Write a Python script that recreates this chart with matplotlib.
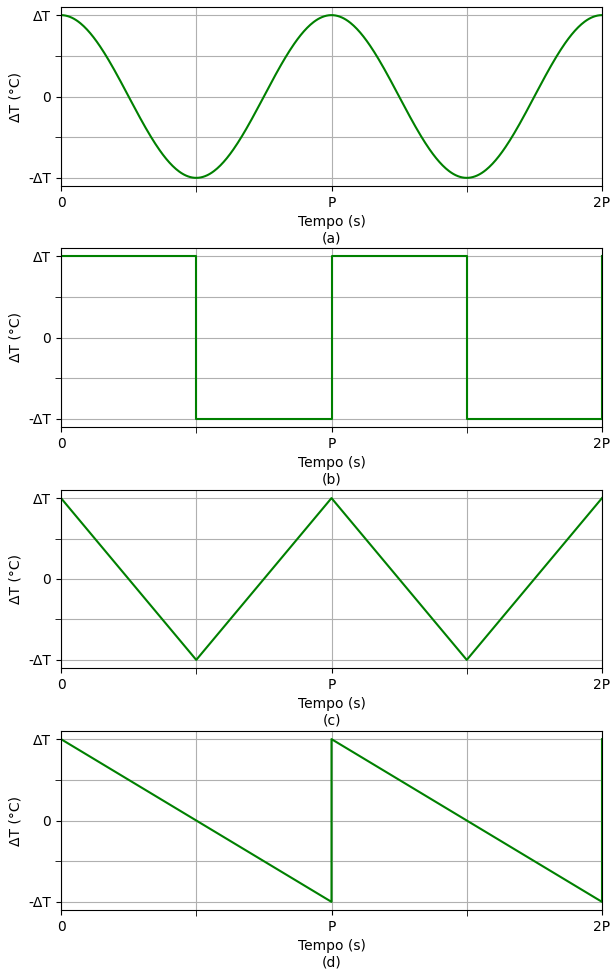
import numpy as np
import matplotlib
matplotlib.use("Agg")
import matplotlib.pyplot as plt

# periods (in units of P) and amplitude (in units of dT)
x_major = [0, 1, 2]
x_major_labels = ["0", "P", "2P"]
x_minor = [0.5, 1.5]
y_major = [1, 0, -1]
y_major_labels = ["ΔT", "0", "-ΔT"]
y_minor = [0.5, -0.5]

# (b) square wave vertices
sq_t = [0, 0.5, 0.5, 1, 1, 1.5, 1.5, 2, 2]
sq_v = [1, 1, -1, -1, 1, 1, -1, -1, 1]
# (c) triangle wave vertices
tri_t = [0, 0.5, 1, 1.5, 2]
tri_v = [1, -1, 1, -1, 1]
# (d) sawtooth vertices
saw_t = [0, 1, 1, 2, 2]
saw_v = [1, -1, 1, -1, 1]

panel_labels = ["(a)", "(b)", "(c)", "(d)"]

fig = plt.figure(figsize=(6.1, 9.69), dpi=100)

# axes boxes in pixels: top, bottom
boxes = [(7, 186), (248, 427), (490, 668), (731, 910)]
W, H = 610, 969
left, right = 61, 602

t = np.linspace(0, 2, 500)
series = [
    (t, np.cos(2 * np.pi * t)),
    (sq_t, sq_v),
    (tri_t, tri_v),
    (saw_t, saw_v),
]

for (top, bot), (xs, ys), lab in zip(boxes, series, panel_labels):
    ax = fig.add_axes([left / W, 1 - bot / H, (right - left) / W, (bot - top) / H])
    ax.plot(xs, ys, color="green", linewidth=1.5)
    ax.set_xlim(0, 2)
    ax.set_xticks(x_major)
    ax.set_xticklabels(x_major_labels)
    ax.set_xticks(x_minor, minor=True)
    ax.set_yticks(y_major)
    ax.set_yticklabels(y_major_labels)
    ax.set_yticks(y_minor, minor=True)
    ax.tick_params(which="minor", length=4)
    ax.grid(which="both")
    ax.set_xlabel("Tempo (s)\n" + lab)
    ax.set_ylabel("ΔT (°C)")

fig.savefig("out.png", dpi=100)
